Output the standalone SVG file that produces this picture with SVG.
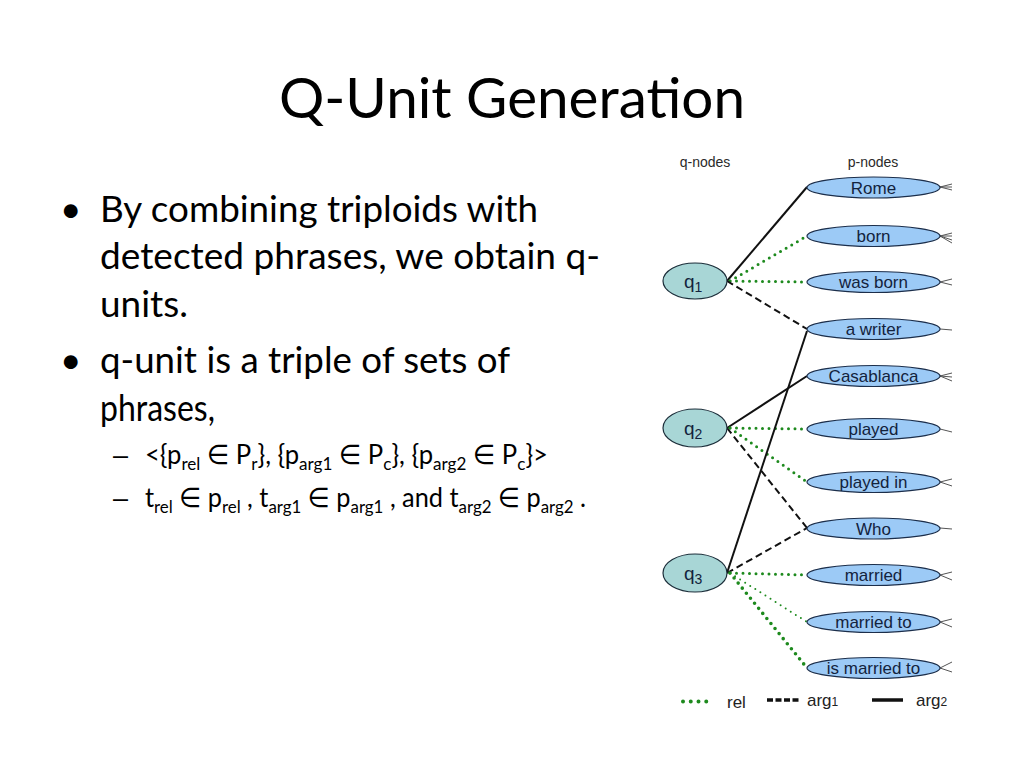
<svg xmlns="http://www.w3.org/2000/svg" width="1024" height="768" viewBox="0 0 1024 768">
<style>
.title{font-family:Lato,"Liberation Sans",sans-serif;font-size:57px;fill:#000}
.body{font-family:Lato,"Liberation Sans",sans-serif;font-size:37px;fill:#000}
.sub{font-family:Lato,"DejaVu Sans",sans-serif;font-size:27px;fill:#000}
.dash{font-family:"Liberation Sans",Arial,sans-serif;font-size:27px;fill:#000}
.ss{font-size:18px}
.lbl{font-family:"Liberation Sans",Arial,sans-serif;font-size:14px;fill:#2a2a2a}
.pn ellipse{fill:#9ccaf6;stroke:#1c2e4a;stroke-width:1.2}
.pn text{font-family:"Liberation Sans",Arial,sans-serif;font-size:17px;fill:#13233d;text-anchor:middle}
.qn ellipse{fill:#a8d6d6;stroke:#1c2e3a;stroke-width:1.2}
.qn text{font-family:"Liberation Sans",Arial,sans-serif;font-size:19px;fill:#13233d}
.rel{stroke:#1e8a1e;stroke-width:3;stroke-linecap:round;stroke-dasharray:0 6.5;fill:none}
.relt{stroke:#1e8a1e;stroke-width:2;stroke-linecap:round;stroke-dasharray:0 6;fill:none}
.relb{stroke:#1e8a1e;stroke-width:3.6;stroke-linecap:round;stroke-dasharray:0 6.5;fill:none}
.a1{stroke:#111;stroke-width:2;stroke-dasharray:7 4;fill:none}
.a2{stroke:#111;stroke-width:2;fill:none}
.stub{stroke:#555;stroke-width:1;fill:none}
.leg{font-family:"Liberation Sans",Arial,sans-serif;font-size:17px;fill:#222}
</style>
<rect width="1024" height="768" fill="#fff"/>
<text class="title" x="512" y="118" text-anchor="middle" textLength="466" lengthAdjust="spacingAndGlyphs">Q-Unit Generation</text>
<g id="bullets">
<text class="body" x="60" y="222">•</text>
<text class="body" x="100" y="222" textLength="438" lengthAdjust="spacingAndGlyphs">By combining triploids with</text>
<text class="body" x="100" y="269" textLength="500" lengthAdjust="spacingAndGlyphs">detected phrases, we obtain q-</text>
<text class="body" x="100" y="317" textLength="88" lengthAdjust="spacingAndGlyphs">units.</text>
<text class="body" x="60" y="373">•</text>
<text class="body" x="100" y="373" textLength="410" lengthAdjust="spacingAndGlyphs">q-unit is a triple of sets of</text>
<text class="body" x="100" y="421" textLength="115" lengthAdjust="spacingAndGlyphs">phrases,</text>
<text class="dash" x="113" y="464">–</text>
<text class="sub" x="145" y="464" textLength="403" lengthAdjust="spacingAndGlyphs">&lt;{p<tspan class="ss" dy="6">rel</tspan><tspan dy="-6"> ∈ P</tspan><tspan class="ss" dy="6">r</tspan><tspan dy="-6">}, {p</tspan><tspan class="ss" dy="6">arg1</tspan><tspan dy="-6"> ∈ P</tspan><tspan class="ss" dy="6">c</tspan><tspan dy="-6">}, {p</tspan><tspan class="ss" dy="6">arg2</tspan><tspan dy="-6"> ∈ P</tspan><tspan class="ss" dy="6">c</tspan><tspan dy="-6">}&gt;</tspan></text>
<text class="dash" x="113" y="507">–</text>
<text class="sub" x="145" y="507" textLength="441" lengthAdjust="spacingAndGlyphs">t<tspan class="ss" dy="6">rel</tspan><tspan dy="-6"> ∈ p</tspan><tspan class="ss" dy="6">rel</tspan><tspan dy="-6"> , t</tspan><tspan class="ss" dy="6">arg1</tspan><tspan dy="-6"> ∈ p</tspan><tspan class="ss" dy="6">arg1</tspan><tspan dy="-6"> , and t</tspan><tspan class="ss" dy="6">arg2</tspan><tspan dy="-6"> ∈ p</tspan><tspan class="ss" dy="6">arg2</tspan><tspan dy="-6"> .</tspan></text>
</g>
<text class="lbl" x="705" y="167" text-anchor="middle">q-nodes</text>
<text class="lbl" x="873" y="167" text-anchor="middle">p-nodes</text>
<g id="connectors">
<line class="a2" x1="727" y1="281" x2="807" y2="187"/>
<line class="rel" x1="730" y1="281" x2="807" y2="236"/>
<line class="rel" x1="730" y1="281" x2="807" y2="282"/>
<line class="a1" x1="727" y1="281" x2="807" y2="329"/>
<line class="a2" x1="727" y1="428" x2="807" y2="376"/>
<line class="rel" x1="730" y1="428" x2="807" y2="429"/>
<line class="rel" x1="730" y1="428" x2="807" y2="482"/>
<line class="a1" x1="727" y1="428" x2="807" y2="528"/>
<line class="a2" x1="727" y1="573" x2="807" y2="331"/>
<line class="a1" x1="727" y1="573" x2="807" y2="528"/>
<line class="rel" x1="730" y1="573" x2="807" y2="575"/>
<line class="relt" x1="730" y1="573" x2="807" y2="622"/>
<line class="relb" x1="730" y1="573" x2="807" y2="668"/>
<g class="stub">
<path d="M940 187L952 184M940 187L952 187M940 187L952 190"/>
<path d="M940 236L952 233M940 236L952 236M940 236L952 240M940 236L952 243"/>
<path d="M940 282L952 279M940 282L952 285"/>
<path d="M940 329L952 330"/>
<path d="M940 376L952 373M940 376L952 377M940 376L952 381"/>
<path d="M940 429L952 432"/>
<path d="M940 482L952 479M940 482L952 486"/>
<path d="M940 528L952 529"/>
<path d="M940 575L952 572M940 575L952 580"/>
<path d="M940 622L952 619M940 622L952 627"/>
<path d="M940 668L952 662M940 668L952 672"/>
</g>
</g>
<g id="q1" class="qn"><ellipse cx="695" cy="281" rx="32" ry="18"/><text x="684" y="288">q<tspan font-size="14" dy="4">1</tspan></text></g>
<g id="q2" class="qn"><ellipse cx="695" cy="428" rx="32" ry="19"/><text x="684" y="435">q<tspan font-size="14" dy="4">2</tspan></text></g>
<g id="q3" class="qn"><ellipse cx="695" cy="573" rx="32" ry="19"/><text x="684" y="580">q<tspan font-size="14" dy="4">3</tspan></text></g>
<g id="p-rome" class="pn"><ellipse cx="873.5" cy="187.5" rx="66.5" ry="10.5"/><text x="873.5" y="193.5">Rome</text></g>
<g id="p-born" class="pn"><ellipse cx="873.5" cy="236" rx="66.5" ry="10.5"/><text x="873.5" y="242">born</text></g>
<g id="p-wasborn" class="pn"><ellipse cx="873.5" cy="282" rx="66.5" ry="10.5"/><text x="873.5" y="288">was born</text></g>
<g id="p-awriter" class="pn"><ellipse cx="873.5" cy="329" rx="66.5" ry="10.5"/><text x="873.5" y="335">a writer</text></g>
<g id="p-casablanca" class="pn"><ellipse cx="873.5" cy="376" rx="66.5" ry="10.5"/><text x="873.5" y="382">Casablanca</text></g>
<g id="p-played" class="pn"><ellipse cx="873.5" cy="429" rx="66.5" ry="10.5"/><text x="873.5" y="435">played</text></g>
<g id="p-playedin" class="pn"><ellipse cx="873.5" cy="482" rx="66.5" ry="10.5"/><text x="873.5" y="488">played in</text></g>
<g id="p-who" class="pn"><ellipse cx="873.5" cy="528.5" rx="66.5" ry="10.5"/><text x="873.5" y="534.5">Who</text></g>
<g id="p-married" class="pn"><ellipse cx="873.5" cy="575" rx="66.5" ry="10.5"/><text x="873.5" y="581">married</text></g>
<g id="p-marriedto" class="pn"><ellipse cx="873.5" cy="622" rx="66.5" ry="10.5"/><text x="873.5" y="628">married to</text></g>
<g id="p-ismarriedto" class="pn"><ellipse cx="873.5" cy="668" rx="66.5" ry="10.5"/><text x="873.5" y="674">is married to</text></g>
<g id="legend">
<line x1="683" y1="701.5" x2="714" y2="701.5" stroke="#1e8a1e" stroke-width="4" stroke-linecap="round" stroke-dasharray="0 7.75"/>
<text class="leg" x="727" y="708">rel</text>
<line x1="767" y1="700" x2="798.5" y2="700" stroke="#111" stroke-width="3.5" stroke-dasharray="6 2.5"/>
<text class="leg" x="807" y="706">arg<tspan font-size="12">1</tspan></text>
<line x1="872" y1="700" x2="903" y2="700" stroke="#111" stroke-width="3.5"/>
<text class="leg" x="916" y="706">arg<tspan font-size="12">2</tspan></text>
</g>
</svg>
